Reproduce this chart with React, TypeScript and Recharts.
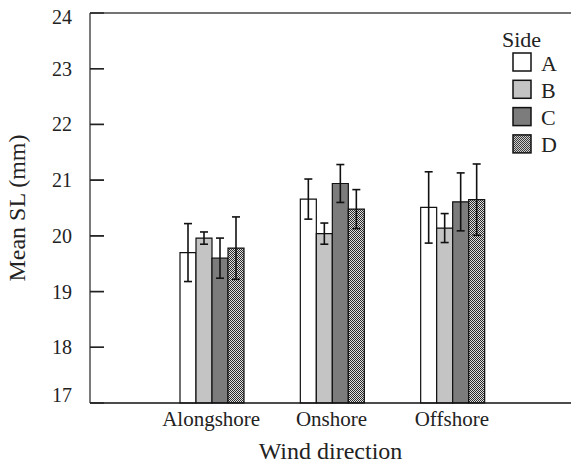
import React from 'react';
import { BarChart, Bar, XAxis, YAxis, ErrorBar, ReferenceLine } from 'recharts';

const categories = ['Alongshore', 'Onshore', 'Offshore'];
const sides = ['A', 'B', 'C', 'D'];
const meanA = [19.7, 20.66, 20.51];
const errA = [0.52, 0.36, 0.64];
const meanB = [19.96, 20.04, 20.14];
const errB = [0.11, 0.19, 0.26];
const meanC = [19.6, 20.94, 20.61];
const errC = [0.36, 0.34, 0.52];
const meanD = [19.78, 20.48, 20.65];
const errD = [0.56, 0.35, 0.64];
const yTicks = [17, 18, 19, 20, 21, 22, 23, 24];

const means = [meanA, meanB, meanC, meanD];
const errs = [errA, errB, errC, errD];
const fills = ['#ffffff', '#c4c4c4', '#7c7c7c', 'url(#dotsD)'];

const data = categories.map((c, i) => {
  const row: any = { name: c };
  sides.forEach((s, k) => {
    row[s] = means[k][i];
    row[s + 'err'] = errs[k][i];
  });
  return row;
});

const FONT = '"Liberation Serif", "Times New Roman", serif';
const TICK_LEN = 14;
const LABEL_GAP = 18;

const YTick = (props: any) => {
  const { x, y, payload } = props;
  const v = Number(payload.value);
  const xx = Number(x);
  const yy = Number(y);
  let dy = 0;
  if (v === 17) dy = -8;
  if (v === 24) dy = 4;
  const inner = v > 17 && v < 24;
  return (
    <g style={{ overflow: 'visible' }}>
      {inner ? (
        <line
          x1={xx + LABEL_GAP}
          x2={xx + LABEL_GAP + TICK_LEN}
          y1={yy}
          y2={yy}
          stroke="#222"
          strokeWidth={1.4}
        />
      ) : null}
      <text x={xx} y={yy + dy} textAnchor="end" dominantBaseline="central" fontSize={20} fontFamily={FONT} fill="#222">
        {v}
      </text>
    </g>
  );
};

const PatternDefs = () => (
  <svg width={0} height={0} style={{ position: 'absolute' }}>
    <defs>
      <pattern id="dotsD" x={0} y={0} width={2} height={2} patternUnits="userSpaceOnUse">
        <rect x={0} y={0} width={2} height={2} fill="#e0e0e0" />
        <rect x={0} y={0} width={1} height={1} fill="#2a2a2a" />
        <rect x={1} y={1} width={1} height={1} fill="#2a2a2a" />
      </pattern>
    </defs>
  </svg>
);

const LegendBox = () => (
  <div style={{ position: 'absolute', left: 502, top: 28, width: 70, fontFamily: FONT, color: '#222' }}>
    <div style={{ fontSize: 22, lineHeight: '24px' }}>Side</div>
    <svg width={60} height={112}>
      {sides.map((s, k) => (
        <g key={s} transform={`translate(11, ${k * 27.3 + 1})`}>
          <rect x={0} y={0} width={18} height={18} fill={fills[k]} stroke="#111" strokeWidth={1.5} />
          <text x={28} y={10} dominantBaseline="central" fontSize={22} fontFamily={FONT} fill="#222">
            {s}
          </text>
        </g>
      ))}
    </svg>
  </div>
);

export default function App() {
  return (
    <div style={{ position: 'absolute', left: 0, top: 0, width: 571, height: 464 }}>
      <PatternDefs />
      <BarChart
        width={571}
        height={464}
        data={data}
        margin={{ top: 13, right: 0, bottom: 0, left: 0 }}
        barCategoryGap={29}
        barGap={0}
        style={{ overflow: 'visible' }}
      >
        <XAxis
          dataKey="name"
          height={61}
          padding={{ left: 61, right: 59 }}
          tickLine={false}
          axisLine={{ stroke: '#111', strokeWidth: 1.5 }}
          tick={{ fontSize: 21, fontFamily: FONT, fill: '#222' }}
          label={{ value: 'Wind direction', position: 'insideBottom', offset: 5, fontSize: 24, fontFamily: FONT, fill: '#222' }}
        />
        <YAxis
          width={90}
          domain={[17, 24]}
          ticks={yTicks}
          interval={0}
          tickSize={-TICK_LEN}
          tickMargin={LABEL_GAP + TICK_LEN}
          tickLine={{ stroke: '#222', strokeWidth: 1.4 }}
          axisLine={{ stroke: '#333', strokeWidth: 1.3 }}
          tick={<YTick />}
          label={{ value: 'Mean SL (mm)', angle: -90, position: 'insideLeft', offset: 16, fontSize: 24, fontFamily: FONT, fill: '#222', style: { textAnchor: 'middle' } }}
        />
        <ReferenceLine y={24} stroke="#444" strokeWidth={1.3} />
        {sides.map((s, k) => (
          <Bar key={s} dataKey={s} fill={fills[k]} stroke="#111" strokeWidth={1.2} isAnimationActive={false}>
            <ErrorBar dataKey={s + 'err'} width={4} stroke="#111" strokeWidth={1.6} />
          </Bar>
        ))}
      </BarChart>
      <LegendBox />
    </div>
  );
}
